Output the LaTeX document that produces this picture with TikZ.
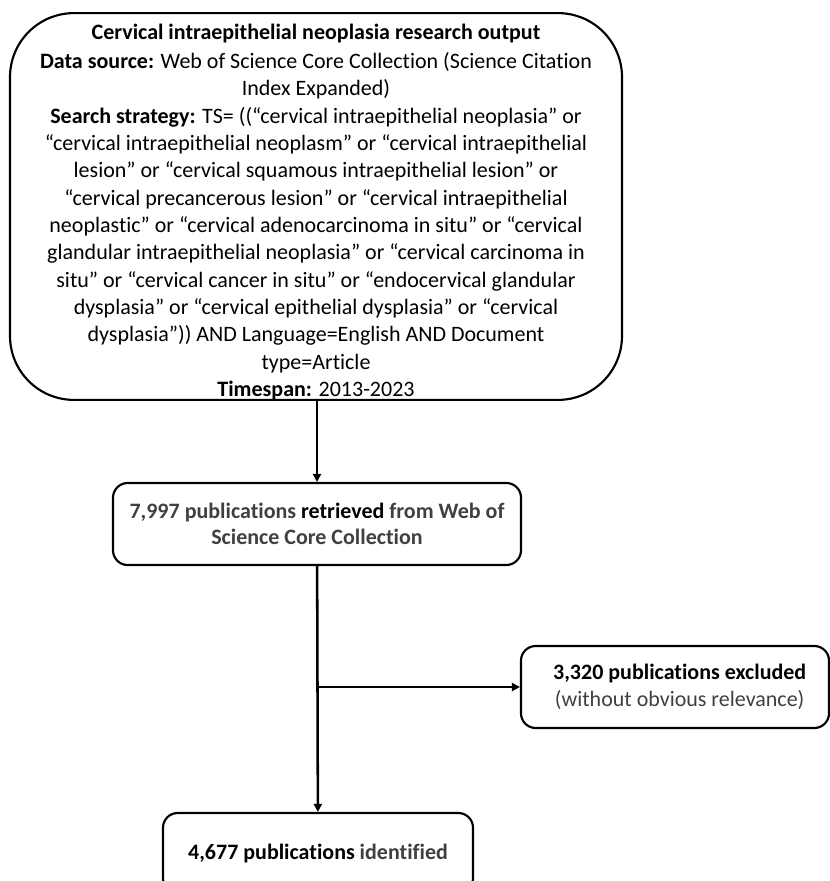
\documentclass[tikz,border=0pt]{standalone}
\usepackage{fontspec}
\setmainfont{Carlito}[Ligatures=NoCommon]
\usetikzlibrary{arrows.meta}
\definecolor{softblack}{gray}{0.25}
\tikzset{
  box/.style={draw, line width=1.6pt, rounded corners=11pt, align=center, inner sep=0pt,
    font=\fontsize{16.5pt}{20pt}\selectfont},
  flow/.style={line width=1.9pt, -{Triangle[length=6pt,width=6pt]}}
}
\begin{document}
\begin{tikzpicture}[x=0.75pt,y=-0.75pt]

\clip (0,0) rectangle (830,881);

\node [box, rounded corners=48pt, minimum width=459pt, minimum height=287pt,
  font=\fontsize{16.5pt}{20.5pt}\selectfont] (search) at (316,206.5) {%
  \rule{0pt}{20pt}\textbf{Cervical intraepithelial neoplasia research output}\\[1pt]
  \textbf{Data source:} Web of Science Core Collection (Science Citation\\
  Index Expanded)\\
  \textbf{Search strategy:} TS= ((“cervical intraepithelial neoplasia” or\\
  “cervical intraepithelial neoplasm” or “cervical intraepithelial\\
  lesion” or “cervical squamous intraepithelial lesion” or\\
  “cervical precancerous lesion” or “cervical intraepithelial\\
  neoplastic” or “cervical adenocarcinoma in situ” or “cervical\\
  glandular intraepithelial neoplasia” or “cervical carcinoma in\\
  situ” or “cervical cancer in situ” or “endocervical glandular\\
  dysplasia” or “cervical epithelial dysplasia” or “cervical\\
  dysplasia”)) AND Language=English AND Document\\
  type=Article\\
  \textbf{Timespan:} 2013-2023};

\node [box, minimum width=306pt, minimum height=61.5pt] (retrieved) at (317,524) {%
  \textbf{\color{softblack}7,997 publications \color{black}retrieved \color{softblack}from Web of}\\
  \textbf{\color{softblack}Science Core Collection}};

\node [box, minimum width=231pt, minimum height=61.5pt] (excluded) at (675,687) {%
  \hspace*{7pt}\textbf{3,320 publications excluded}\\
  \hspace*{7pt}{\color{softblack}(without obvious relevance)}};

\node [box, minimum width=232.5pt, minimum height=60pt] (identified) at (318,853) {%
  \textbf{4,677 publications \color{softblack}identified}};

\draw [flow] (search.south -| retrieved.north) -- (retrieved.north);
\draw [flow] (retrieved) -- (identified);
\coordinate (branch) at (retrieved.south |- excluded.west);
\draw [flow] (branch) -- (excluded.west);

\end{tikzpicture}
\end{document}
